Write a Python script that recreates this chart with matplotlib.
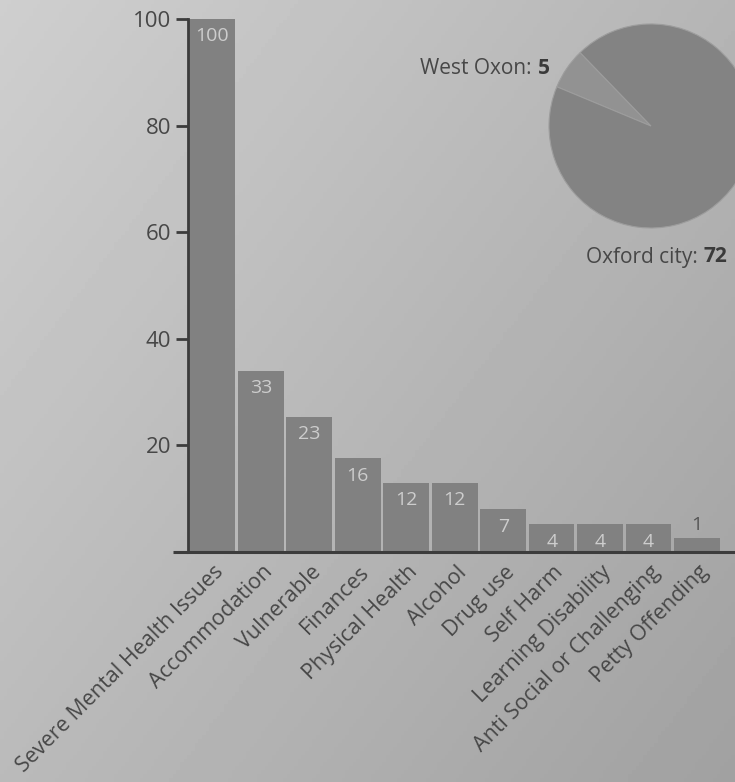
import numpy as np
import matplotlib
matplotlib.use("Agg")
import matplotlib.pyplot as plt
from matplotlib.transforms import ScaledTranslation

plt.rcParams['font.family'] = ['Open Sans', 'DejaVu Sans']

# issue categories and their counts (the printed labels)
categories = ["Severe Mental Health Issues", "Accommodation", "Vulnerable",
              "Finances", "Physical Health", "Alcohol", "Drug use", "Self Harm",
              "Learning Disability", "Anti Social or Challenging", "Petty Offending"]
counts = [100, 33, 23, 16, 12, 12, 7, 4, 4, 4, 1]
# bar heights as drawn in the printed chart (read against the axis)
bar_heights = [100, 34, 25.4, 17.6, 13, 13, 8, 5.2, 5.2, 5.2, 2.6]

# area split shown in the pie
areas = ["West Oxon", "Oxford city"]
area_counts = [5, 72]

W, H = 735, 782
fig = plt.figure(figsize=(W / 100, H / 100), dpi=100)

# paper-like grey background, lighter top left
bg = fig.add_axes([0, 0, 1, 1], zorder=-5)
gx, gy = np.meshgrid(np.linspace(0, 1, 200), np.linspace(0, 1, 200))
shade = 0.81 - 0.10 * gx - 0.08 * gy
bg.imshow(shade, cmap='gray', vmin=0, vmax=1, aspect='auto', extent=[0, 1, 1, 0])
bg.axis('off')

ax = fig.add_axes([188 / W, 1 - 552 / H, (W - 188) / W, (552 - 19) / H])
ax.set_facecolor('none')
x = np.arange(len(categories))
ax.bar(x, bar_heights, width=0.94, color='#818181', zorder=2)
ax.set_xlim(-0.5, 10.78)
ax.set_ylim(0, 100)

for i, (c, h) in enumerate(zip(counts, bar_heights)):
    if c > 1:
        ax.annotate(str(c), (i, h), xytext=(0, -6), textcoords='offset points',
                    ha='center', va='top', fontsize=14, color='#cdcdcd', zorder=3)
    else:
        ax.annotate(str(c), (i, h), xytext=(0, 3), textcoords='offset points',
                    ha='center', va='bottom', fontsize=14, color='#555555', zorder=3)

for s in ['top', 'right']:
    ax.spines[s].set_visible(False)
ax.spines['left'].set_color('#3c3c3c')
ax.spines['left'].set_linewidth(2)
ax.spines['bottom'].set_color('#3c3c3c')
ax.spines['bottom'].set_linewidth(2.2)
ax.plot([-0.028, 0], [0, 0], transform=ax.get_yaxis_transform(), color='#3c3c3c',
        lw=2.2, clip_on=False, solid_capstyle='butt')

ax.set_yticks([20, 40, 60, 80, 100])
ax.tick_params(axis='y', length=9, width=2, color='#3c3c3c', pad=3,
               labelsize=16, labelcolor='#474747')
ax.set_xticks(x)
ax.set_xticklabels(categories, rotation=45, ha='right', va='top',
                   rotation_mode='anchor', fontsize=15.5, color='#474747')
ax.tick_params(axis='x', length=0, pad=7)
for lab in ax.get_xticklabels():
    lab.set_transform(lab.get_transform() + ScaledTranslation(0.01, 0, fig.dpi_scale_trans))

# pie in the top right, partly cut by the page edge
pax = fig.add_axes([549 / W, 1 - 228 / H, 204 / W, 204 / H])
pax.pie(area_counts, startangle=134, counterclock=True,
        colors=['#929292', '#838383'],
        wedgeprops=dict(edgecolor='#9d9d9d', linewidth=0.8))
pax.set_xlim(-1, 1)
pax.set_ylim(-1, 1)

fig.text(532 / W, 1 - 68 / H, areas[0] + ":", ha='right', va='center',
         fontsize=15, color='#474747')
fig.text(538 / W, 1 - 68 / H, str(area_counts[0]), ha='left', va='center',
         fontsize=15, color='#3a3a3a', fontweight='bold')
fig.text(698 / W, 1 - 257 / H, areas[1] + ":", ha='right', va='center',
         fontsize=15, color='#474747')
fig.text(703 / W, 1 - 257 / H, str(area_counts[1]), ha='left', va='center',
         fontsize=15, color='#3a3a3a', fontweight='bold')

fig.savefig('out.png', dpi=100)
